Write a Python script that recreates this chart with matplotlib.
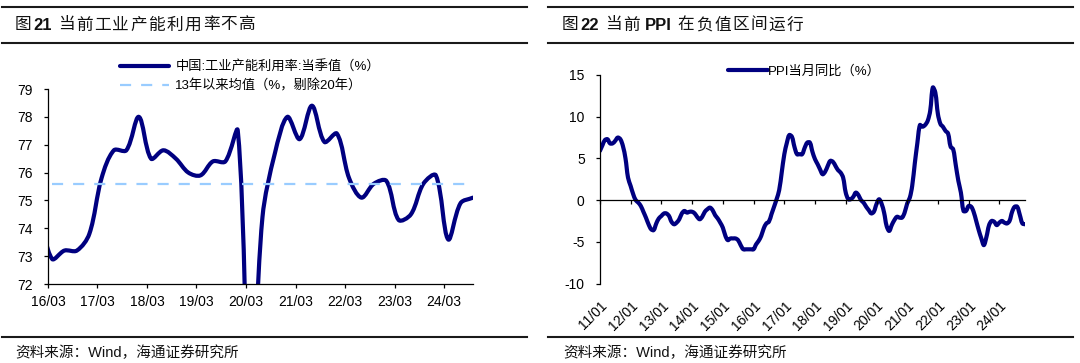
import numpy as np
import pandas as pd
import matplotlib
matplotlib.use("Agg")
import matplotlib.pyplot as plt
import matplotlib.dates as mdates
from matplotlib.path import Path
from matplotlib.patches import PathPatch
from matplotlib.lines import Line2D

plt.rcParams["font.family"] = ["Liberation Sans", "Noto Sans CJK SC"]
plt.rcParams["axes.unicode_minus"] = False

# ---- data: capacity utilization, quarterly (first point 2015Q4 sits left of the axis)
cu_values = [74.5,
             72.9, 73.2, 73.2, 73.8,
             75.8, 76.8, 76.8, 78.0,
             76.5, 76.8, 76.5, 76.0,
             75.9, 76.4, 76.4, 77.5,
             67.3, 74.4, 76.7, 78.0,
             77.2, 78.4, 77.1, 77.4,
             75.8, 75.1, 75.6, 75.7,
             74.3, 74.5, 75.6, 75.9,
             73.6, 74.9, 75.1]
cu_avg = 75.6
cu_ticks = ["2016-03-01", "2017-03-01", "2018-03-01", "2019-03-01", "2020-03-01",
            "2021-03-01", "2022-03-01", "2023-03-01", "2024-03-01"]
cu_ticklabels = ["16/03", "17/03", "18/03", "19/03", "20/03", "21/03", "22/03", "23/03", "24/03"]

# ---- data: PPI yoy, monthly (first point 2010-12 sits left of the axis)
ppi_values = [5.9,
    6.6, 7.2, 7.3, 6.8, 6.8, 7.1, 7.5, 7.3, 6.5, 5.0, 2.7, 1.7,
    0.7, 0.0, -0.3, -0.7, -1.4, -2.1, -2.9, -3.5, -3.6, -2.8, -2.2, -1.9,
    -1.6, -1.6, -1.9, -2.6, -2.9, -2.7, -2.3, -1.6, -1.3, -1.5, -1.4, -1.4,
    -1.6, -2.0, -2.3, -2.0, -1.4, -1.1, -0.9, -1.2, -1.8, -2.2, -2.7, -3.3,
    -4.3, -4.8, -4.6, -4.6, -4.6, -4.8, -5.4, -5.9, -5.9, -5.9, -5.9, -5.9,
    -5.3, -4.9, -4.3, -3.4, -2.8, -2.6, -1.7, -0.8, 0.1, 1.2, 3.3, 5.5,
    6.9, 7.8, 7.6, 6.4, 5.5, 5.5, 5.5, 6.3, 6.9, 6.9, 5.8, 4.9,
    4.3, 3.7, 3.1, 3.4, 4.1, 4.7, 4.6, 4.1, 3.6, 3.3, 2.7, 0.9,
    0.1, 0.1, 0.4, 0.9, 0.6, 0.0, -0.3, -0.8, -1.2, -1.6, -1.4, -0.5,
    0.1, -0.4, -1.5, -3.1, -3.7, -3.0, -2.4, -2.0, -2.1, -2.1, -1.5, -0.4,
    0.3, 1.7, 4.4, 6.8, 9.0, 8.8, 9.0, 9.5, 10.7, 13.5, 12.9, 10.3,
    9.1, 8.8, 8.3, 8.0, 6.4, 6.1, 4.2, 2.3, 0.9, -1.3, -1.3, -0.7,
    -0.8, -1.4, -2.5, -3.6, -4.6, -5.4, -4.4, -3.0, -2.5, -2.6, -3.0, -2.7,
    -2.5, -2.7, -2.8, -2.5, -1.4, -0.8, -0.8, -1.8, -2.8, -2.9]
ppi_ticks = ["%d-01-01" % y for y in range(2011, 2025)]
ppi_ticklabels = ["%02d/01" % (y % 100) for y in range(2011, 2025)]

cu_dates = pd.date_range("2015-12-31", periods=len(cu_values), freq="QE")
ppi_dates = pd.date_range("2010-12-31", periods=len(ppi_values), freq="ME")

NAVY = "#000080"
LIGHT = "#99CCFF"
W, H = 1080, 363


def fx(px):
    return px / W


def fy(py):
    return 1 - py / H


def dnum(d):
    return mdates.date2num(pd.to_datetime(d).to_pydatetime())


def smooth_path(ax, x, y):
    # Excel-like smoothed line: Bezier tangents weighted by on-screen segment lengths
    x = np.asarray(x, float)
    y = np.asarray(y, float)
    n = len(x)
    disp = ax.transData.transform(np.column_stack([x, y]))
    seg = np.hypot(*np.diff(disp, axis=0).T)

    def tangent(i):
        a, b = max(i - 1, 0), min(i + 1, n - 1)
        return np.array([x[b] - x[a], y[b] - y[a]])

    verts = [(x[0], y[0])]
    codes = [Path.MOVETO]
    for i in range(n - 1):
        d = seg[i]
        dp = seg[i - 1] if i > 0 else 0.0
        dn = seg[i + 1] if i + 1 < n - 1 else 0.0
        p0 = np.array([x[i], y[i]])
        p1 = np.array([x[i + 1], y[i + 1]])
        c1 = p0 + tangent(i) * d / (dp + d) / 3
        c2 = p1 - tangent(i + 1) * d / (d + dn) / 3
        verts += [tuple(c1), tuple(c2), tuple(p1)]
        codes += [Path.CURVE4] * 3
    return Path(verts, codes)


def chain_text(fig, x, y, parts, size, track=0.0):
    # parts drawn one after another; CJK parts get a little extra letter spacing
    r = fig.canvas.get_renderer()
    for s, w in parts:
        pieces = [s] if w == "bold" else list(s)
        for c in pieces:
            if c == " ":
                x += 4 / W
                continue
            t = fig.text(x, y, c, fontsize=size, fontweight=w, ha="left", va="center", color="#111111")
            x += (t.get_window_extent(renderer=r).width + (track if w != "bold" else 2)) / W


def rule(fig, x0, x1, y):
    fig.add_artist(Line2D([fx(x0), fx(x1)], [fy(y), fy(y)], transform=fig.transFigure,
                          color="#1a1a1a", lw=1.5))


def style_axes(ax):
    for s in ["top", "right"]:
        ax.spines[s].set_visible(False)
    for s in ["left", "bottom"]:
        ax.spines[s].set_color("black")
        ax.spines[s].set_linewidth(0.9)
    ax.tick_params(length=3, width=0.9, color="black", labelsize=10, labelcolor="black")


fig = plt.figure(figsize=(W / 100, H / 100), dpi=100)

# ---------------- left chart ----------------
ax1 = fig.add_axes([fx(48), fy(284), fx(473 - 48), (284 - 89) / H])
style_axes(ax1)
xc = mdates.date2num(cu_dates.to_pydatetime())
ax1.set_xlim(dnum("2016-03-01"), xc[-1])
ax1.set_ylim(72, 79)
ax1.add_patch(PathPatch(smooth_path(ax1, xc, cu_values), fill=False, edgecolor=NAVY, lw=3,
                        capstyle="round", joinstyle="round"))
ax1.plot(xc[1:], [cu_avg] * (len(xc) - 1), color=LIGHT, lw=1.6, ls=(0, (5, 4.5)))
ax1.set_yticks(range(72, 80))
ax1.set_xticks([dnum(d) for d in cu_ticks])
ax1.set_xticklabels(cu_ticklabels)
ax1.tick_params(axis="y", pad=8)
ax1.tick_params(axis="x", pad=5)
h1 = Line2D([], [], color=NAVY, lw=3, solid_capstyle="round")
h2 = Line2D([], [], color=LIGHT, lw=1.6, ls=(0, (5, 4.5)))
fig.legend([h1, h2], ["中国:工业产能利用率:当季值（%）", "13年以来均值（%，剔除20年）"],
           loc="center left", bbox_to_anchor=(fx(120), fy(76.5)), frameon=False,
           fontsize=9.5, borderpad=0, borderaxespad=0, handlelength=3.7, handletextpad=0.5,
           labelspacing=0.4)

# ---------------- right chart ----------------
ax2 = fig.add_axes([fx(600), fy(283.5), fx(1025 - 600), (283.5 - 75) / H])
style_axes(ax2)
xp = mdates.date2num(ppi_dates.to_pydatetime())
ax2.set_xlim(dnum("2011-01-01"), xp[-1])
ax2.set_ylim(-10, 15)
ax2.add_patch(PathPatch(smooth_path(ax2, xp, ppi_values), fill=False, edgecolor=NAVY, lw=3,
                        capstyle="round", joinstyle="round"))
ax2.set_yticks(range(-10, 16, 5))
ax2.spines["bottom"].set_position(("data", 0))
ax2.set_xticks([dnum(d) for d in ppi_ticks])
ax2.set_xticklabels(ppi_ticklabels, rotation=45, ha="right", rotation_mode="anchor")
ax2.tick_params(axis="y", pad=8)
ax2.tick_params(axis="x", pad=68)
h3 = Line2D([], [], color=NAVY, lw=3, solid_capstyle="round")
fig.legend([h3], ["PPI当月同比（%）"], loc="center left", bbox_to_anchor=(fx(728), fy(71)),
           frameon=False, fontsize=9.5, borderpad=0, borderaxespad=0, handlelength=3.0,
           handletextpad=0.05)

# ---------------- titles, rules, sources ----------------
for x0, x1 in [(2, 527), (548, 1073)]:
    rule(fig, x0, x1, 7)
    rule(fig, x0, x1, 43)
    rule(fig, x0, x1, 337)

chain_text(fig, fx(15), fy(25), [("图", "normal"), ("21", "bold"),
                                 (" 当前工业产能利用率不高", "normal")], 12, track=1.5)
chain_text(fig, fx(562), fy(25), [("图", "normal"), ("22", "bold"), (" 当前 ", "normal"),
                                  ("PPI", "bold"), (" 在负值区间运行", "normal")], 12, track=1.5)
src = "资料来源：Wind，海通证券研究所"
fig.text(fx(15), fy(353), src, fontsize=10.5, va="center", color="#111111")
fig.text(fx(563), fy(353), src, fontsize=10.5, va="center", color="#111111")

fig.savefig("out.png", dpi=100)
